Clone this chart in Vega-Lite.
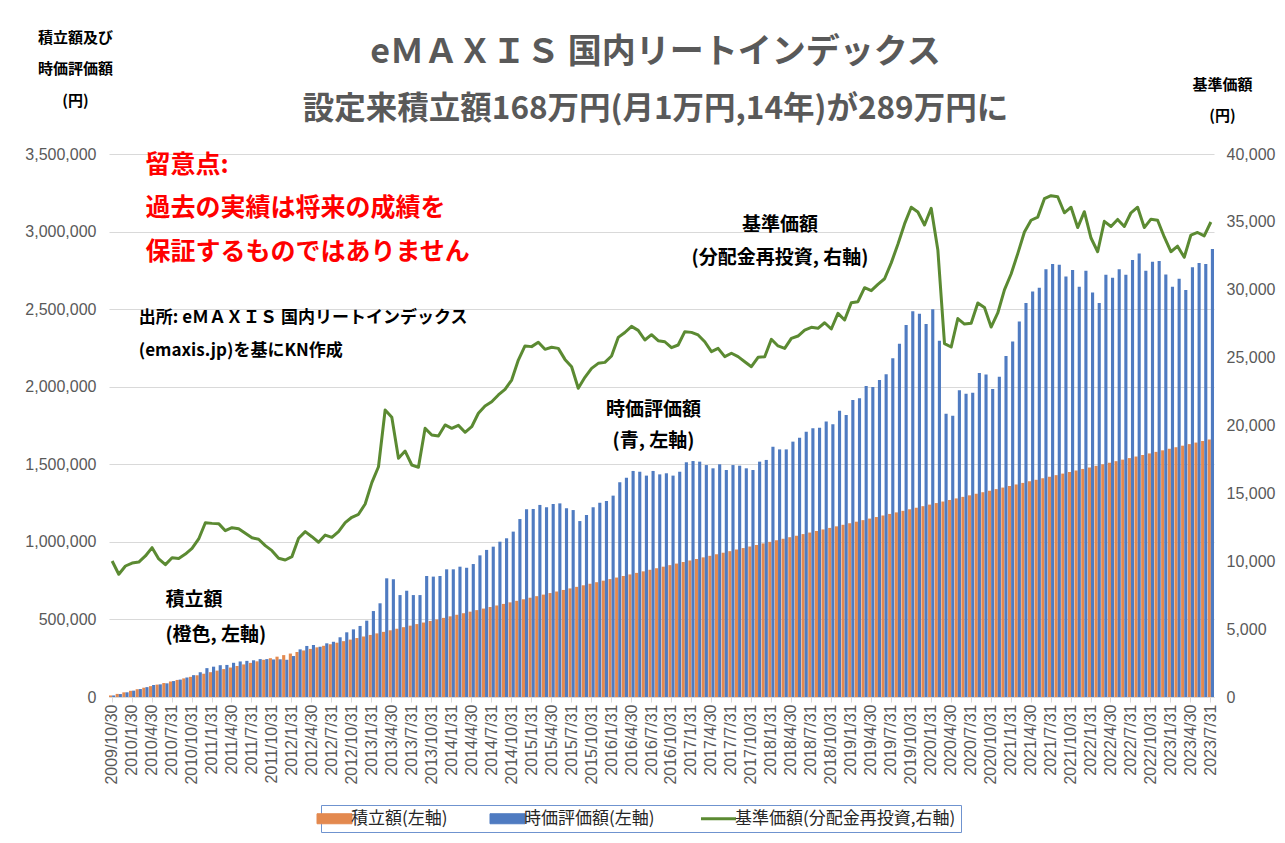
{
  "$schema": "https://vega.github.io/schema/vega-lite/v6.json",
  "width": 1105,
  "height": 543,
  "autosize": "none",
  "padding": {"left": 109, "top": 154, "right": 71, "bottom": 146},
  "background": "white",
  "config": {"view": {"stroke": null}, "font": "Noto Sans CJK JP"},
  "title": {
    "text": "eＭＡＸＩＳ 国内リートインデックス",
    "subtitle": "設定来積立額168万円(月1万円,14年)が289万円に",
    "anchor": "middle",
    "font": "Noto Sans CJK JP",
    "fontSize": 34,
    "fontWeight": "bold",
    "color": "#595959",
    "subtitleFont": "Noto Sans CJK JP",
    "subtitleFontSize": 31.5,
    "subtitleFontWeight": "bold",
    "subtitleColor": "#595959",
    "subtitlePadding": 24,
    "offset": -95,
    "dx": -6
  },
  "datasets": {
    "m": [
      {"d":"2009/10","t":10000,"j":10000,"n":10020},
      {"d":"2009/11","t":20000,"j":19000,"n":9040},
      {"d":"2009/12","t":30000,"j":30300,"n":9650},
      {"d":"2010/1","t":40000,"j":41000,"n":9870},
      {"d":"2010/2","t":50000,"j":51300,"n":9940},
      {"d":"2010/3","t":60000,"j":63600,"n":10390},
      {"d":"2010/4","t":70000,"j":77400,"n":11000},
      {"d":"2010/5","t":80000,"j":81500,"n":10170},
      {"d":"2010/6","t":90000,"j":88100,"n":9750},
      {"d":"2010/7","t":100000,"j":102800,"n":10260},
      {"d":"2010/8","t":110000,"j":112300,"n":10210},
      {"d":"2010/9","t":120000,"j":125800,"n":10530},
      {"d":"2010/10","t":130000,"j":140800,"n":10950},
      {"d":"2010/11","t":140000,"j":159600,"n":11640},
      {"d":"2010/12","t":150000,"j":186100,"n":12840},
      {"d":"2011/1","t":160000,"j":195500,"n":12790},
      {"d":"2011/2","t":170000,"j":205000,"n":12770},
      {"d":"2011/3","t":180000,"j":206700,"n":12250},
      {"d":"2011/4","t":190000,"j":220500,"n":12470},
      {"d":"2011/5","t":200000,"j":229200,"n":12400},
      {"d":"2011/6","t":210000,"j":232900,"n":12060},
      {"d":"2011/7","t":220000,"j":236600,"n":11730},
      {"d":"2011/8","t":230000,"j":244300,"n":11620},
      {"d":"2011/9","t":240000,"j":244300,"n":11150},
      {"d":"2011/10","t":250000,"j":242000,"n":10780},
      {"d":"2011/11","t":260000,"j":243000,"n":10220},
      {"d":"2011/12","t":270000,"j":240000,"n":10090},
      {"d":"2012/1","t":280000,"j":264000,"n":10340},
      {"d":"2012/2","t":290000,"j":307000,"n":11690},
      {"d":"2012/3","t":300000,"j":329000,"n":12180},
      {"d":"2012/4","t":310000,"j":335000,"n":11810},
      {"d":"2012/5","t":320000,"j":324000,"n":11400},
      {"d":"2012/6","t":330000,"j":346000,"n":11930},
      {"d":"2012/7","t":340000,"j":356000,"n":11760},
      {"d":"2012/8","t":350000,"j":385000,"n":12180},
      {"d":"2012/9","t":360000,"j":417000,"n":12840},
      {"d":"2012/10","t":370000,"j":436000,"n":13240},
      {"d":"2012/11","t":380000,"j":458000,"n":13460},
      {"d":"2012/12","t":390000,"j":492000,"n":14220},
      {"d":"2013/1","t":400000,"j":554000,"n":15790},
      {"d":"2013/2","t":410000,"j":604000,"n":16960},
      {"d":"2013/3","t":420000,"j":765000,"n":21140},
      {"d":"2013/4","t":430000,"j":759000,"n":20600},
      {"d":"2013/5","t":440000,"j":657000,"n":17580},
      {"d":"2013/6","t":450000,"j":685000,"n":18120},
      {"d":"2013/7","t":460000,"j":657000,"n":17090},
      {"d":"2013/8","t":470000,"j":657000,"n":16920},
      {"d":"2013/9","t":480000,"j":780000,"n":19790},
      {"d":"2013/10","t":490000,"j":776000,"n":19300},
      {"d":"2013/11","t":500000,"j":780000,"n":19230},
      {"d":"2013/12","t":510000,"j":823000,"n":20040},
      {"d":"2014/1","t":520000,"j":823000,"n":19790},
      {"d":"2014/2","t":530000,"j":840000,"n":20010},
      {"d":"2014/3","t":540000,"j":833000,"n":19500},
      {"d":"2014/4","t":550000,"j":857000,"n":19910},
      {"d":"2014/5","t":560000,"j":913000,"n":20900},
      {"d":"2014/6","t":570000,"j":948000,"n":21440},
      {"d":"2014/7","t":580000,"j":969000,"n":21750},
      {"d":"2014/8","t":590000,"j":1001000,"n":22250},
      {"d":"2014/9","t":600000,"j":1023000,"n":22660},
      {"d":"2014/10","t":610000,"j":1066000,"n":23350},
      {"d":"2014/11","t":620000,"j":1147000,"n":24820},
      {"d":"2014/12","t":630000,"j":1210000,"n":25860},
      {"d":"2015/1","t":640000,"j":1212000,"n":25810},
      {"d":"2015/2","t":650000,"j":1238000,"n":26130},
      {"d":"2015/3","t":660000,"j":1223000,"n":25610},
      {"d":"2015/4","t":670000,"j":1244000,"n":25760},
      {"d":"2015/5","t":680000,"j":1248000,"n":25680},
      {"d":"2015/6","t":690000,"j":1216000,"n":24870},
      {"d":"2015/7","t":700000,"j":1205000,"n":24330},
      {"d":"2015/8","t":710000,"j":1134000,"n":22740},
      {"d":"2015/9","t":720000,"j":1173000,"n":23550},
      {"d":"2015/10","t":730000,"j":1223000,"n":24210},
      {"d":"2015/11","t":740000,"j":1252000,"n":24580},
      {"d":"2015/12","t":750000,"j":1263000,"n":24650},
      {"d":"2016/1","t":760000,"j":1298000,"n":25120},
      {"d":"2016/2","t":770000,"j":1384000,"n":26490},
      {"d":"2016/3","t":780000,"j":1414000,"n":26850},
      {"d":"2016/4","t":790000,"j":1457000,"n":27300},
      {"d":"2016/5","t":800000,"j":1452000,"n":27010},
      {"d":"2016/6","t":810000,"j":1427000,"n":26300},
      {"d":"2016/7","t":820000,"j":1457000,"n":26690},
      {"d":"2016/8","t":830000,"j":1435000,"n":26250},
      {"d":"2016/9","t":840000,"j":1442000,"n":26170},
      {"d":"2016/10","t":850000,"j":1427000,"n":25730},
      {"d":"2016/11","t":860000,"j":1452000,"n":25930},
      {"d":"2016/12","t":870000,"j":1513000,"n":26910},
      {"d":"2017/1","t":880000,"j":1521000,"n":26860},
      {"d":"2017/2","t":890000,"j":1517000,"n":26670},
      {"d":"2017/3","t":900000,"j":1495000,"n":26170},
      {"d":"2017/4","t":910000,"j":1474000,"n":25440},
      {"d":"2017/5","t":920000,"j":1500000,"n":25680},
      {"d":"2017/6","t":930000,"j":1463000,"n":25070},
      {"d":"2017/7","t":940000,"j":1495000,"n":25320},
      {"d":"2017/8","t":950000,"j":1491000,"n":25070},
      {"d":"2017/9","t":960000,"j":1474000,"n":24700},
      {"d":"2017/10","t":970000,"j":1463000,"n":24330},
      {"d":"2017/11","t":980000,"j":1517000,"n":25020},
      {"d":"2017/12","t":990000,"j":1528000,"n":25070},
      {"d":"2018/1","t":1000000,"j":1613000,"n":26350},
      {"d":"2018/2","t":1010000,"j":1596000,"n":25860},
      {"d":"2018/3","t":1020000,"j":1596000,"n":25680},
      {"d":"2018/4","t":1030000,"j":1646000,"n":26420},
      {"d":"2018/5","t":1040000,"j":1671000,"n":26590},
      {"d":"2018/6","t":1050000,"j":1710000,"n":27030},
      {"d":"2018/7","t":1060000,"j":1732000,"n":27230},
      {"d":"2018/8","t":1070000,"j":1736000,"n":27160},
      {"d":"2018/9","t":1080000,"j":1775000,"n":27570},
      {"d":"2018/10","t":1090000,"j":1758000,"n":27110},
      {"d":"2018/11","t":1100000,"j":1845000,"n":28260},
      {"d":"2018/12","t":1110000,"j":1818000,"n":27770},
      {"d":"2019/1","t":1120000,"j":1914000,"n":29040},
      {"d":"2019/2","t":1130000,"j":1925000,"n":29120},
      {"d":"2019/3","t":1140000,"j":2004000,"n":30150},
      {"d":"2019/4","t":1150000,"j":1998000,"n":29930},
      {"d":"2019/5","t":1160000,"j":2044000,"n":30400},
      {"d":"2019/6","t":1170000,"j":2081000,"n":30810},
      {"d":"2019/7","t":1180000,"j":2184000,"n":31980},
      {"d":"2019/8","t":1190000,"j":2277000,"n":33350},
      {"d":"2019/9","t":1200000,"j":2397000,"n":34850},
      {"d":"2019/10","t":1210000,"j":2487000,"n":36080},
      {"d":"2019/11","t":1220000,"j":2471000,"n":35730},
      {"d":"2019/12","t":1230000,"j":2404000,"n":34770},
      {"d":"2020/1","t":1240000,"j":2500000,"n":36000},
      {"d":"2020/2","t":1250000,"j":2296000,"n":32930},
      {"d":"2020/3","t":1260000,"j":1825000,"n":26030},
      {"d":"2020/4","t":1270000,"j":1813000,"n":25780},
      {"d":"2020/5","t":1280000,"j":1978000,"n":27880},
      {"d":"2020/6","t":1290000,"j":1954000,"n":27470},
      {"d":"2020/7","t":1300000,"j":1961000,"n":27530},
      {"d":"2020/8","t":1310000,"j":2088000,"n":29030},
      {"d":"2020/9","t":1320000,"j":2079000,"n":28700},
      {"d":"2020/10","t":1330000,"j":1985000,"n":27250},
      {"d":"2020/11","t":1340000,"j":2064000,"n":28290},
      {"d":"2020/12","t":1350000,"j":2198000,"n":29990},
      {"d":"2021/1","t":1360000,"j":2291000,"n":31160},
      {"d":"2021/2","t":1370000,"j":2420000,"n":32660},
      {"d":"2021/3","t":1380000,"j":2540000,"n":34250},
      {"d":"2021/4","t":1390000,"j":2614000,"n":35120},
      {"d":"2021/5","t":1400000,"j":2638000,"n":35350},
      {"d":"2021/6","t":1410000,"j":2757000,"n":36710},
      {"d":"2021/7","t":1420000,"j":2791000,"n":36930},
      {"d":"2021/8","t":1430000,"j":2786000,"n":36850},
      {"d":"2021/9","t":1440000,"j":2710000,"n":35670},
      {"d":"2021/10","t":1450000,"j":2753000,"n":36080},
      {"d":"2021/11","t":1460000,"j":2645000,"n":34580},
      {"d":"2021/12","t":1470000,"j":2748000,"n":35750},
      {"d":"2022/1","t":1480000,"j":2607000,"n":33810},
      {"d":"2022/2","t":1490000,"j":2540000,"n":32800},
      {"d":"2022/3","t":1500000,"j":2722000,"n":35040},
      {"d":"2022/4","t":1510000,"j":2703000,"n":34660},
      {"d":"2022/5","t":1520000,"j":2757000,"n":35180},
      {"d":"2022/6","t":1530000,"j":2722000,"n":34660},
      {"d":"2022/7","t":1540000,"j":2817000,"n":35670},
      {"d":"2022/8","t":1550000,"j":2858000,"n":36080},
      {"d":"2022/9","t":1560000,"j":2748000,"n":34580},
      {"d":"2022/10","t":1570000,"j":2806000,"n":35200},
      {"d":"2022/11","t":1580000,"j":2810000,"n":35120},
      {"d":"2022/12","t":1590000,"j":2724000,"n":33890},
      {"d":"2023/1","t":1600000,"j":2645000,"n":32800},
      {"d":"2023/2","t":1610000,"j":2696000,"n":33210},
      {"d":"2023/3","t":1620000,"j":2624000,"n":32390},
      {"d":"2023/4","t":1630000,"j":2770000,"n":34030},
      {"d":"2023/5","t":1640000,"j":2798000,"n":34220},
      {"d":"2023/6","t":1650000,"j":2791000,"n":33970},
      {"d":"2023/7","t":1660000,"j":2887000,"n":34990}
    ]
  },
  "layer": [
    {
      "layer": [
        {
          "data": {"name": "m"},
          "transform": [{"fold": ["t", "j"], "as": ["key", "val"]}],
          "mark": {"type": "bar"},
          "encoding": {
            "x": {
              "field": "d", "type": "ordinal", "sort": null,
              "scale": {"paddingInner": 0.06, "paddingOuter": 0},
              "axis": {
                "title": null,
                "values": ["2009/10","2010/1","2010/4","2010/7","2010/10","2011/1","2011/4","2011/7","2011/10","2012/1","2012/4","2012/7","2012/10","2013/1","2013/4","2013/7","2013/10","2014/1","2014/4","2014/7","2014/10","2015/1","2015/4","2015/7","2015/10","2016/1","2016/4","2016/7","2016/10","2017/1","2017/4","2017/7","2017/10","2018/1","2018/4","2018/7","2018/10","2019/1","2019/4","2019/7","2019/10","2020/1","2020/4","2020/7","2020/10","2021/1","2021/4","2021/7","2021/10","2022/1","2022/4","2022/7","2022/10","2023/1","2023/4","2023/7"],
                "labelExpr": "(datum.value == '2009/10' || datum.value == '2010/1' || slice(datum.value, -2) == '/4') ? datum.value + '/30' : datum.value + '/31'",
                "labelAngle": -90,
                "labelAlign": "right",
                "labelBaseline": "middle",
                "labelFont": "Liberation Sans",
                "labelFontSize": 16,
                "labelColor": "#595959",
                "labelPadding": 2,
                "labelOverlap": false,
                "tickColor": "#d9d9d9",
                "tickSize": 5,
                "domainColor": "#d9d9d9",
                "grid": false
              }
            },
            "xOffset": {"field": "key", "type": "nominal", "sort": ["t", "j"], "scale": {"paddingInner": 0, "paddingOuter": 0}},
            "y": {
              "field": "val", "type": "quantitative",
              "scale": {"domain": [0, 3500000], "nice": false},
              "axis": {
                "title": ["積立額及び", "時価評価額", "(円)"],
                "titleAngle": 0,
                "titleAlign": "center",
                "titleBaseline": "top",
                "titleX": -34,
                "titleY": -124,
                "titleFont": "Noto Sans CJK JP",
                "titleFontSize": 15,
                "titleFontWeight": "bold",
                "titleColor": "#000000",
                "titleLineHeight": 31.5,
                "values": [0, 500000, 1000000, 1500000, 2000000, 2500000, 3000000, 3500000],
                "format": ",.0f",
                "labelFont": "Liberation Sans",
                "labelFontSize": 16,
                "labelColor": "#595959",
                "labelPadding": 13,
                "domain": false,
                "ticks": false,
                "grid": true,
                "gridColor": "#d9d9d9",
                "gridWidth": 1
              }
            },
            "color": {
              "field": "key", "type": "nominal",
              "scale": {"domain": ["t", "j", "n"], "range": ["#E3894F", "#4F7BC1", "#5B8A32"]},
              "legend": {
                "orient": "none",
                "legendX": 212,
                "legendY": 651,
                "direction": "horizontal",
                "title": null,
                "strokeColor": "#6F93CF",
                "padding": 5,
                "columnPadding": 40,
                "symbolSize": 625,
                "labelOffset": 8,
                "labelFont": "Noto Sans CJK JP",
                "labelFontSize": 17,
                "labelColor": "#262626",
                "labelLimit": 500,
                "labelExpr": "datum.value == 't' ? '積立額(左軸)' : datum.value == 'j' ? '時価評価額(左軸)' : '基準価額(分配金再投資,右軸)'",
                "encode": {
                  "symbols": {
                    "update": {
                      "shape": {"signal": "datum.value == 'n' ? 'M-1.4,0H1.4' : 'M-1.4,-0.4H1.4V0.4H-1.4Z'"},
                      "fill": {"signal": "datum.value == 'n' ? 'transparent' : scale('color', datum.value)"},
                      "stroke": {"signal": "scale('color', datum.value)"},
                      "strokeWidth": {"signal": "datum.value == 'n' ? 3 : 1"},
                      "size": {"value": 625},
                      "opacity": {"value": 1}
                    }
                  }
                }
              }
            }
          }
        },
        {
          "data": {"values": [
            {"d": "2010/3", "v": 3429000, "s": "留意点:"},
            {"d": "2010/3", "v": 3155000, "s": "過去の実績は将来の成績を"},
            {"d": "2010/3", "v": 2871000, "s": "保証するものではありません"}
          ]},
          "mark": {"type": "text", "align": "left", "baseline": "middle", "font": "Noto Sans CJK JP", "fontSize": 25, "fontWeight": "bold", "color": "#FF0000"},
          "encoding": {
            "x": {"field": "d", "type": "ordinal", "sort": null},
            "y": {"field": "v", "type": "quantitative"},
            "text": {"field": "s"}
          }
        },
        {
          "data": {"values": [
            {"d": "2010/2", "v": 2440000, "s": "出所: eＭＡＸＩＳ 国内リートインデックス"},
            {"d": "2010/2", "v": 2227000, "s": "(emaxis.jp)を基にKN作成"}
          ]},
          "mark": {"type": "text", "align": "left", "baseline": "middle", "font": "Noto Sans CJK JP", "fontSize": 17, "fontWeight": "bold", "color": "#000000"},
          "encoding": {
            "x": {"field": "d", "type": "ordinal", "sort": null},
            "y": {"field": "v", "type": "quantitative"},
            "text": {"field": "s"}
          }
        },
        {
          "data": {"values": [
            {"d": "2010/6", "v": 625000, "s": "積立額"},
            {"d": "2010/6", "v": 400000, "s": "(橙色, 左軸)"}
          ]},
          "mark": {"type": "text", "align": "left", "baseline": "middle", "font": "Noto Sans CJK JP", "fontSize": 19, "fontWeight": "bold", "color": "#000000"},
          "encoding": {
            "x": {"field": "d", "type": "ordinal", "sort": null},
            "y": {"field": "v", "type": "quantitative"},
            "text": {"field": "s"}
          }
        },
        {
          "data": {"values": [
            {"d": "2018/2", "v": 3042000, "s": "基準価額"},
            {"d": "2018/2", "v": 2830000, "s": "(分配金再投資, 右軸)"},
            {"d": "2016/7", "v": 1853000, "s": "時価評価額"},
            {"d": "2016/7", "v": 1647000, "s": "(青, 左軸)"}
          ]},
          "mark": {"type": "text", "align": "center", "baseline": "middle", "font": "Noto Sans CJK JP", "fontSize": 19, "fontWeight": "bold", "color": "#000000", "dx": 2},
          "encoding": {
            "x": {"field": "d", "type": "ordinal", "sort": null},
            "y": {"field": "v", "type": "quantitative"},
            "text": {"field": "s"}
          }
        }
      ]
    },
    {
      "layer": [
        {
          "data": {"name": "m"},
          "mark": {"type": "line", "strokeWidth": 3, "strokeJoin": "round"},
          "encoding": {
            "x": {"field": "d", "type": "ordinal", "sort": null},
            "y": {
              "field": "n", "type": "quantitative",
              "scale": {"domain": [0, 40000], "nice": false},
              "axis": {
                "orient": "right",
                "title": ["基準価額", "(円)"],
                "titleAngle": 0,
                "titleAlign": "center",
                "titleBaseline": "top",
                "titleX": 8,
                "titleY": -77,
                "titleFont": "Noto Sans CJK JP",
                "titleFontSize": 15,
                "titleFontWeight": "bold",
                "titleColor": "#000000",
                "titleLineHeight": 31,
                "values": [0, 5000, 10000, 15000, 20000, 25000, 30000, 35000, 40000],
                "format": ",.0f",
                "labelFont": "Liberation Sans",
                "labelFontSize": 16,
                "labelColor": "#595959",
                "labelPadding": 12,
                "domain": false,
                "ticks": false,
                "grid": false
              }
            },
            "color": {"datum": "n"}
          }
        }
      ]
    }
  ],
  "resolve": {"scale": {"y": "independent"}}
}
